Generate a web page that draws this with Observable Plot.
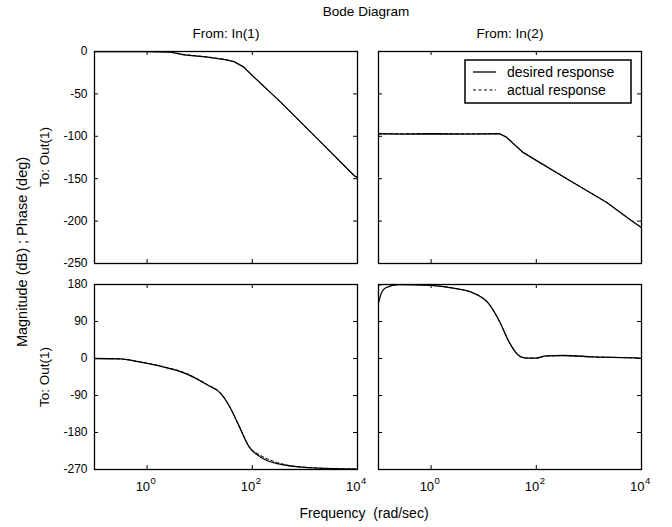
<!DOCTYPE html>
<html><head><meta charset="utf-8">
<script src="https://cdn.jsdelivr.net/npm/d3@7"></script>
<script src="https://cdn.jsdelivr.net/npm/@observablehq/plot@0.6"></script>
<style>
body{margin:0;background:#fff;}
#fig{position:relative;width:672px;height:527px;font-family:"Liberation Sans",Arial,sans-serif;color:#000;overflow:hidden;background:#fff}
#fig svg{position:absolute;overflow:visible;background:transparent}
.t{position:absolute;white-space:pre;transform:translate(-50%,-50%);font-size:13.5px;line-height:1}
</style></head><body><div id="fig"></div>
<script>
// ---------- data (frequency in rad/sec) ----------
const freqMag1 = [0.1, 0.5, 1, 2.8, 5, 14, 30, 45, 69, 107, 350, 1740, 8700, 10000];
const magIn1Desired = [0, 0, 0, -0.8, -4, -6.7, -9.5, -12, -18.5, -30, -60, -103, -146.6, -148.5];
const magIn1Actual  = [0, 0, 0, -0.5, -3.6, -6.4, -9.3, -12, -18.3, -30, -60, -103, -146.6, -148.5];

const freqMag2 = [0.1, 0.3, 1, 5, 20, 27, 56, 117, 500, 2190, 6000, 10000];
const magIn2Desired = [-97, -97.5, -97, -97.5, -97, -101, -119, -131, -154.5, -178, -198, -207.7];
const magIn2Actual  = [-97, -97, -97, -97, -97, -101, -119, -131, -154.5, -178, -198, -207.7];

const freqPh1 = [0.1, 0.31, 0.55, 1.55, 5.75, 13.8, 25, 35.5, 55, 87, 145, 300, 1120, 10000];
const phIn1Desired = [0, -1, -5.6, -17, -38, -64, -85, -113, -162, -215, -240, -256, -265.5, -269];
const phIn1Actual  = [0, -1, -5.0, -16.5, -37, -63, -84, -112, -162, -214, -236, -253, -265, -269];

const freqPh2 = [0.1, 0.111, 0.138, 0.25, 1, 3, 6.2, 12.9, 20, 31, 49, 65, 100, 155, 324, 1200, 9300, 10000];
const phIn2Desired = [135, 156, 172, 180, 178, 170, 160, 131, 90, 38, 5, 1, 1, 6.6, 7.3, 4, 1, 0];
const phIn2Actual  = [178, 179, 180, 180, 178, 170, 160, 131, 90, 38, 5, 1, 1, 6.0, 7.0, 4, 0.5, 0];

const magTicks = [0, -50, -100, -150, -200, -250];
const phaseTicks = [180, 90, 0, -90, -180, -270];
const xTickValues = [1, 100, 10000];
const xTickExponents = ["0", "2", "4"];
const innerXTicks = [1, 100];

const seriesNames = ["desired response", "actual response"];

// ---------- helpers ----------
const fig = document.getElementById("fig");
const FW = 263; // frame width in px

function toRows(freq, vals) { return freq.map((f, i) => ({f, v: vals[i]})); }

function panel({left, top, ml, mr, mt, mb, fh, freq, desired, actual, yDomain, yTicks, showY, showX, curve}) {
  const marks = [
    Plot.line(toRows(freq, actual), {x: "f", y: "v", stroke: "black", strokeWidth: 1, strokeDasharray: "3,2.5", curve, clip: true}),
    Plot.line(toRows(freq, desired), {x: "f", y: "v", stroke: "black", strokeWidth: 1.3, curve, clip: true}),
    // inward tick marks
    Plot.ruleX(innerXTicks, {x: d => d, insetTop: fh - 4, stroke: "black"}),
    Plot.ruleX(innerXTicks, {x: d => d, insetBottom: fh - 4, stroke: "black"}),
    Plot.ruleY(yTicks, {y: d => d, insetRight: FW - 4, stroke: "black"}),
    Plot.ruleY(yTicks, {y: d => d, insetLeft: FW - 4, stroke: "black"}),
    Plot.frame({stroke: "black", strokeWidth: 1.3})
  ];
  if (showY) marks.push(Plot.axisY({ticks: yTicks, tickSize: 0, tickPadding: 7, tickFormat: d => String(d), label: null, fontSize: 12}));
  if (showX) {
    marks.push(Plot.text(xTickValues, {x: d => d, frameAnchor: "bottom", dy: 21, dx: 3, text: () => "10", textAnchor: "end", fontSize: 13}));
    marks.push(Plot.text(xTickValues, {x: d => d, frameAnchor: "bottom", dy: 14, dx: 3.5, text: (d, i) => xTickExponents[i], textAnchor: "start", fontSize: 9.5}));
  }
  const svg = Plot.plot({
    width: ml + FW + mr, height: mt + fh + mb,
    marginLeft: ml, marginRight: mr, marginTop: mt, marginBottom: mb,
    x: {type: "log", domain: [0.1, 10000], axis: null},
    y: {domain: yDomain, axis: null},
    style: {fontFamily: "'Liberation Sans', Arial, sans-serif", fontSize: "12px", color: "black", background: "transparent"},
    marks
  });
  svg.style.left = left + "px";
  svg.style.top = top + "px";
  fig.appendChild(svg);
}

// Top row: magnitude
panel({left: 0, top: 41, ml: 94, mr: 5, mt: 10, mb: 5, fh: 212, freq: freqMag1, desired: magIn1Desired, actual: magIn1Actual, yDomain: [-250, 0], yTicks: magTicks, showY: true, showX: false, curve: "linear"});
panel({left: 368, top: 41, ml: 10, mr: 5, mt: 10, mb: 5, fh: 212, freq: freqMag2, desired: magIn2Desired, actual: magIn2Actual, yDomain: [-250, 0], yTicks: magTicks, showY: false, showX: false, curve: "linear"});
// Bottom row: phase
panel({left: 0, top: 274, ml: 94, mr: 8, mt: 10, mb: 35, fh: 185, freq: freqPh1, desired: phIn1Desired, actual: phIn1Actual, yDomain: [-270, 180], yTicks: phaseTicks, showY: true, showX: true, curve: "monotone-x"});
panel({left: 368, top: 274, ml: 10, mr: 20, mt: 10, mb: 35, fh: 185, freq: freqPh2, desired: phIn2Desired, actual: phIn2Actual, yDomain: [-270, 180], yTicks: phaseTicks, showY: false, showX: true, curve: "monotone-x"});

// ---------- text ----------
function label(txt, x, y, rot, size) {
  const d = document.createElement("div");
  d.className = "t";
  d.textContent = txt;
  d.style.left = x + "px"; d.style.top = y + "px";
  if (size) d.style.fontSize = size + "px";
  if (rot) d.style.transform = "translate(-50%,-50%) rotate(-90deg)";
  fig.appendChild(d);
}
label("Bode Diagram", 366, 12);
label("From: In(1)", 226, 34);
label("From: In(2)", 510, 34);
label("Frequency  (rad/sec)", 364, 513, false, 14);
label("Magnitude (dB) ; Phase (deg)", 22, 252, true, 14.5);
label("To: Out(1)", 45, 157, true);
label("To: Out(1)", 45, 377, true);

// ---------- legend ----------
const ns = "http://www.w3.org/2000/svg";
const lg = document.createElementNS(ns, "svg");
lg.setAttribute("width", 168); lg.setAttribute("height", 45);
lg.style.left = "464px"; lg.style.top = "59px";
lg.innerHTML = `<rect x="1" y="1" width="166" height="43" fill="white" stroke="black" stroke-width="1.5"/>
<line x1="9" x2="32" y1="13" y2="13" stroke="black" stroke-width="1.3"/>
<line x1="9" x2="32" y1="31" y2="31" stroke="black" stroke-width="1" stroke-dasharray="3,2.5"/>
<text x="43" y="13" dy="0.35em" font-size="14" font-family="Liberation Sans, Arial, sans-serif">${seriesNames[0]}</text>
<text x="43" y="31" dy="0.35em" font-size="14" font-family="Liberation Sans, Arial, sans-serif">${seriesNames[1]}</text>`;
fig.appendChild(lg);
</script>
</body></html>
